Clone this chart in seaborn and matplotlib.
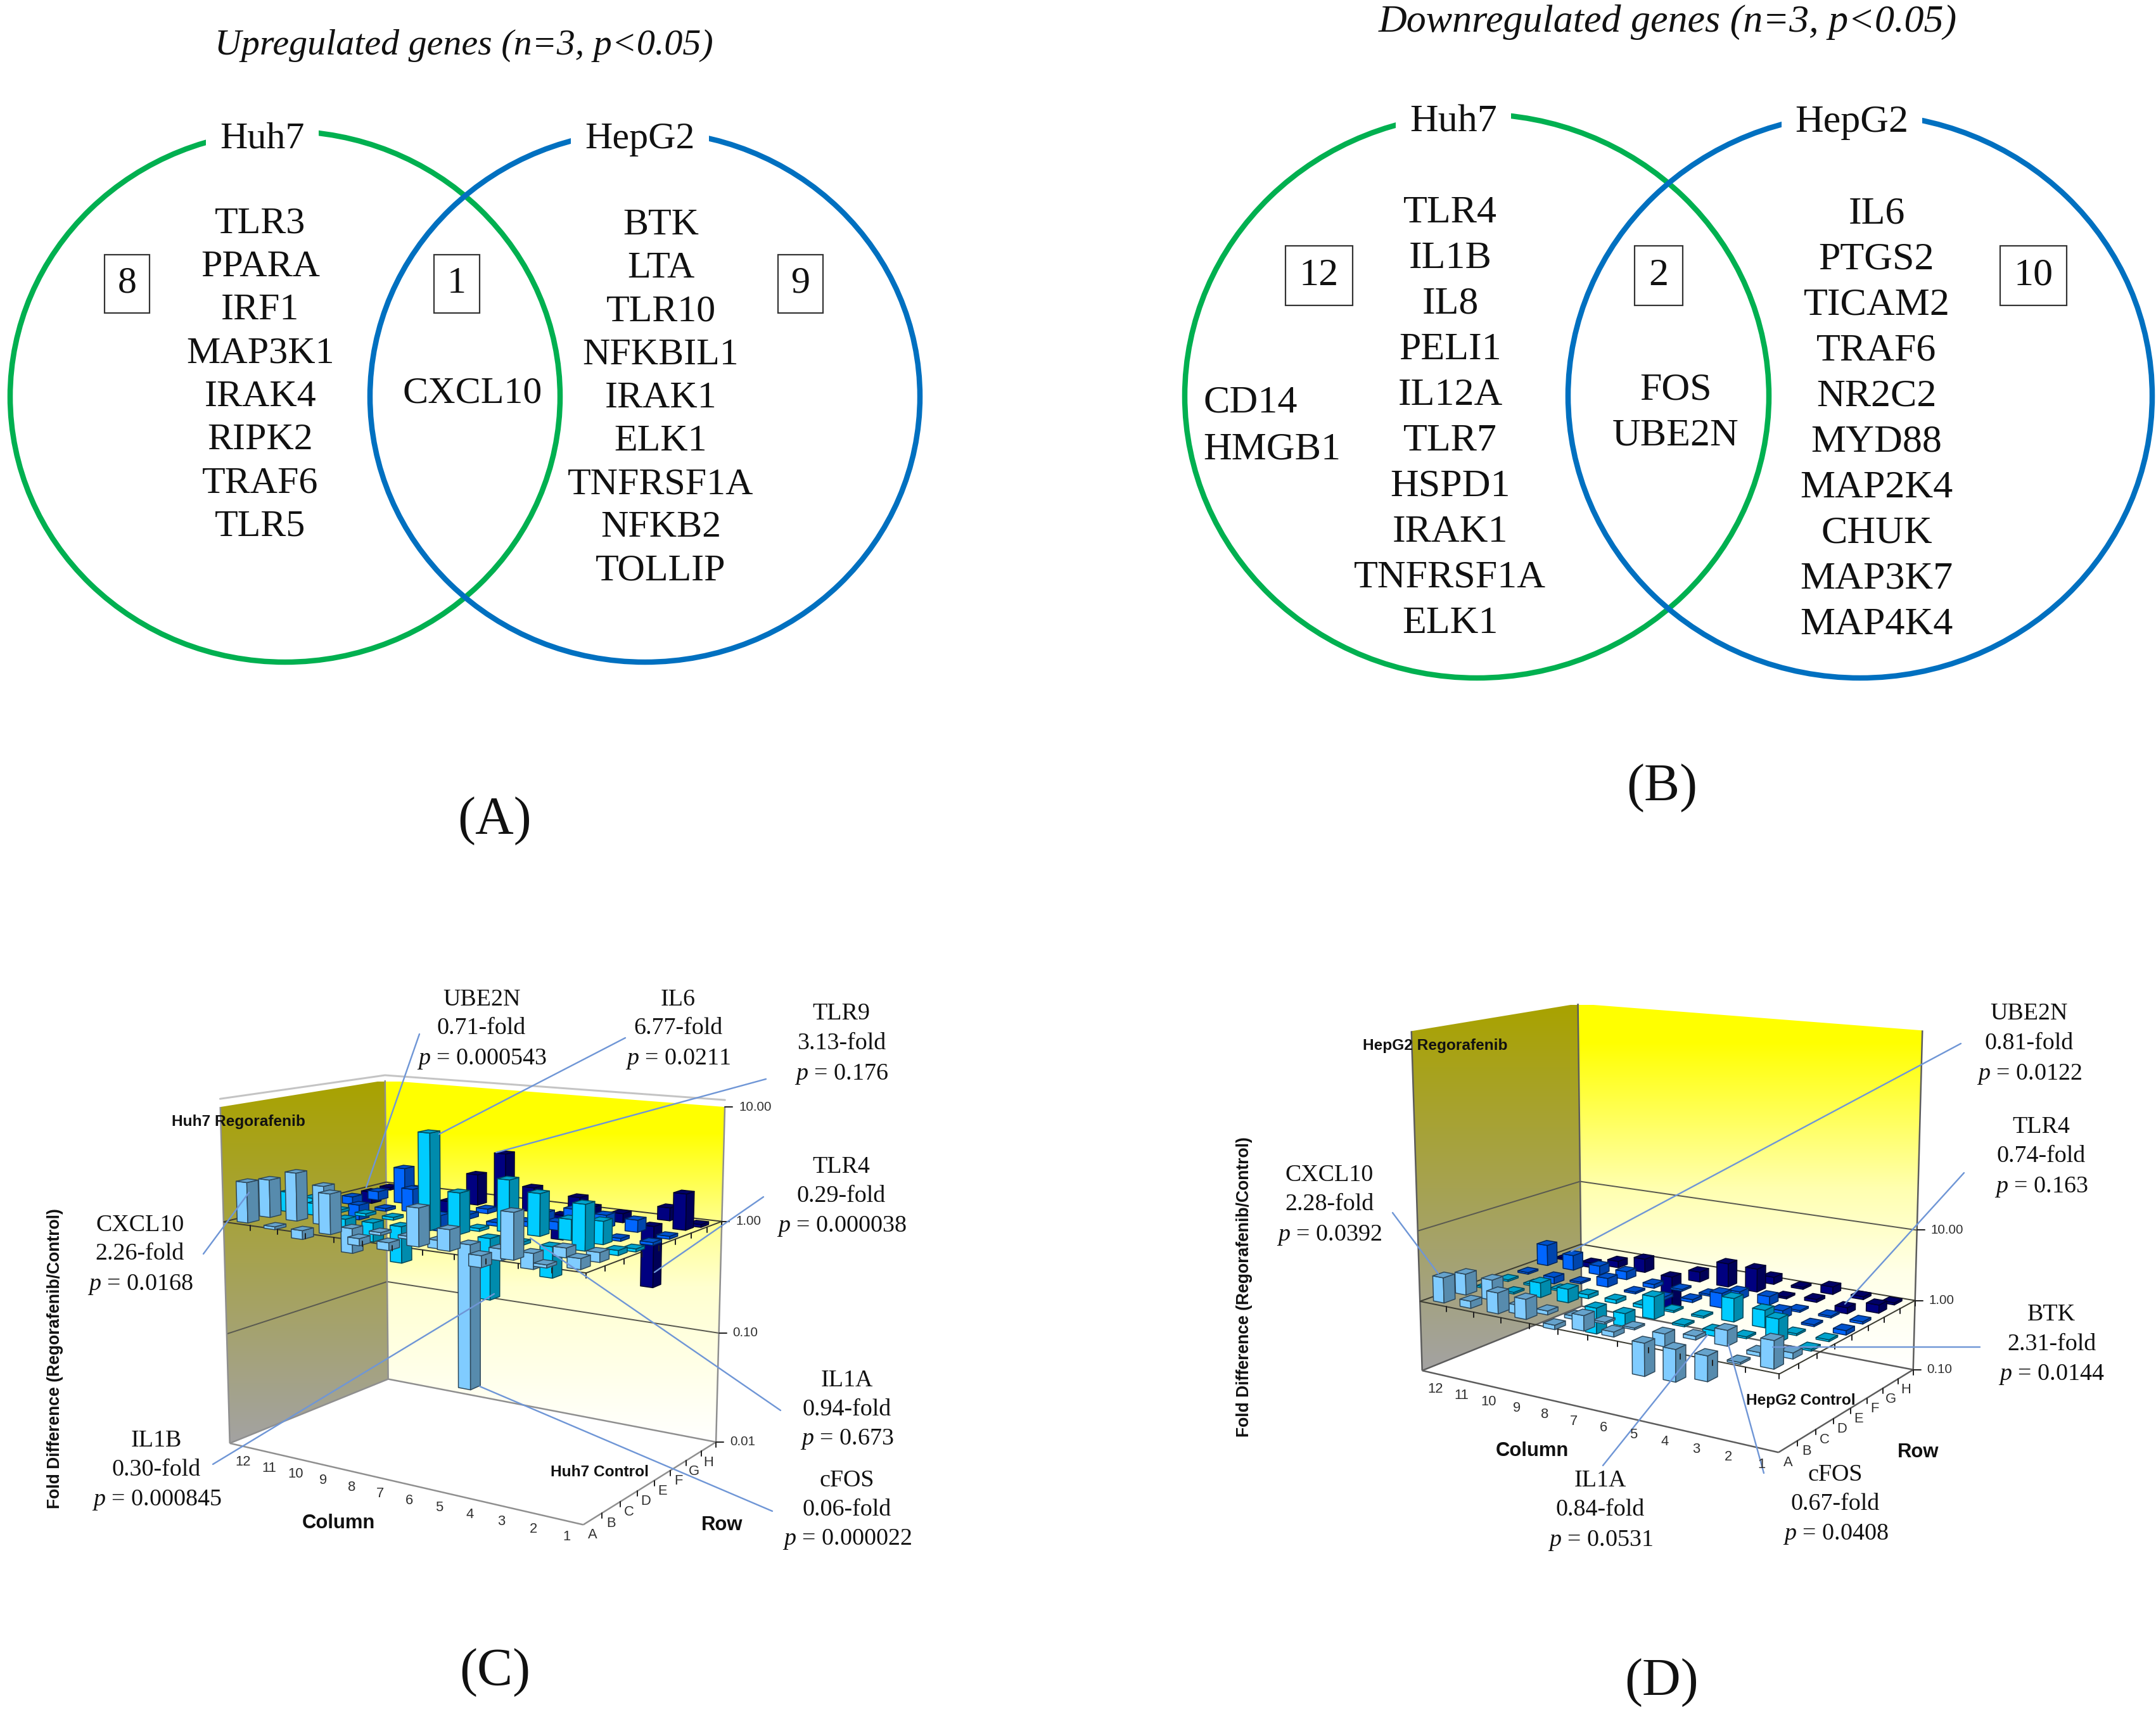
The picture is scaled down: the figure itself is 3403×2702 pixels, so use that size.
import numpy as np
import matplotlib
matplotlib.use('Agg')
import matplotlib.pyplot as plt
import seaborn as sns
from matplotlib.colors import LinearSegmentedColormap, to_rgb
from matplotlib.patches import Ellipse, Rectangle, Polygon

# ── Settings ──────────────────────────────────────────
sns.set_theme(style='white')
plt.rcParams['font.family'] = ['Liberation Serif', 'DejaVu Serif']
plt.rcParams['mathtext.fontset'] = 'custom'
plt.rcParams['mathtext.it'] = 'Liberation Serif:italic'
plt.rcParams['mathtext.rm'] = 'Liberation Serif'

GREEN, BLUE = '#00b050', '#0070c0'
LEADER = '#6f96d6'
SANS = 'Liberation Sans'


def fs(px):
    # figure is 100 dpi, so text height in pixels -> points
    return px * 0.72


# ── Venn data ─────────────────────────────────────────
up_huh7 = ['TLR3', 'PPARA', 'IRF1', 'MAP3K1', 'IRAK4', 'RIPK2', 'TRAF6', 'TLR5']
up_hepg2 = ['BTK', 'LTA', 'TLR10', 'NFKBIL1', 'IRAK1', 'ELK1', 'TNFRSF1A', 'NFKB2', 'TOLLIP']
up_shared = ['CXCL10']
up_counts = [8, 1, 9]
down_huh7 = ['TLR4', 'IL1B', 'IL8', 'PELI1', 'IL12A', 'TLR7', 'HSPD1', 'IRAK1', 'TNFRSF1A', 'ELK1']
down_huh7_extra = ['CD14', 'HMGB1']
down_hepg2 = ['IL6', 'PTGS2', 'TICAM2', 'TRAF6', 'NR2C2', 'MYD88', 'MAP2K4', 'CHUK', 'MAP3K7', 'MAP4K4']
down_shared = ['FOS', 'UBE2N']
down_counts = [12, 2, 10]

# ── Fold differences, rows A-H, columns 12 down to 1 (nan = no bar) ───
nan = np.nan
huh7_a = [2.26, 1.0, 0.84, 2.21, 0.87, 0.86, 2.09, 1.5, 0.8, 2.4, 1.0, 1.22]
huh7_b = [2.15, 2.64, 2.16, 0.61, 1.0, 0.98, 0.85, 0.06, 0.8, 0.74, 1.2, 1.2]
huh7_c = [1.5, 1.27, 0.79, 0.68, 0.48, 6.77, 2.25, 0.30, 0.94, 0.55, 2.4, 1.1]
huh7_d = [1.2, 1.0, 1.03, 1.02, nan, nan, 1.0, 2.8, 2.3, 1.5, 1.56, 1.03]
huh7_e = [nan, 0.73, 1.03, 1.6, 0.72, 1.1, 0.93, 1.1, 1.18, nan, 0.95, 0.95]
huh7_f = [0.85, 1.2, 2.1, nan, nan, 1.1, nan, 1.18, 1.36, 1.3, 1.27, 1.0]
huh7_g = [0.78, nan, nan, 0.79, 1.9, 3.13, 1.65, 0.6, 1.27, 1.2, 0.29, 2.05]
huh7_h = [0.95, nan, nan, nan, nan, nan, nan, 1.3, nan, nan, 1.3, 0.95]
huh7_folds = [huh7_a, huh7_b, huh7_c, huh7_d, huh7_e, huh7_f, huh7_g, huh7_h]

hepg2_a = [2.28, 1.26, 1.96, 1.9, 0.87, 1.62, 1.17, 0.36, 0.37, 0.46, 1.0, 2.31]
hepg2_b = [2.0, 1.94, 0.75, 0.88, 0.9, 1.0, 1.0, 0.67, 1.12, 1.62, 0.89, 1.2]
hepg2_c = [1.0, 1.0, 1.62, 1.56, 0.43, 0.66, 2.04, 1.0, 0.84, 1.0, 2.08, 1.03]
hepg2_d = [1.03, 1.0, 1.0, 0.88, 0.89, 0.9, 1.0, 1.0, 2.1, 1.73, 1.0, 1.0]
hepg2_e = [1.03, 0.8, 1.02, 1.34, 1.0, 0.9, 1.1, 1.6, nan, 1.3, 0.97, 0.87]
hepg2_f = [2.03, 1.66, 1.35, 1.31, 0.88, 1.03, 1.0, 1.3, 1.32, 1.03, 1.05, 0.93]
hepg2_g = [1.03, 0.85, 1.25, 1.58, 0.33, 1.4, 2.18, 2.15, 1.03, 1.1, 0.82, 1.3]
hepg2_h = [nan, nan, nan, nan, nan, nan, nan, 1.27, 1.07, 1.28, 1.1, 1.07]
hepg2_folds = [hepg2_a, hepg2_b, hepg2_c, hepg2_d, hepg2_e, hepg2_f, hepg2_g, hepg2_h]

row_names = list('ABCDEFGH')
col_names = [str(c) for c in range(12, 0, -1)]
row_colors = ['#80ccff', '#80ccff', '#00ccff', '#00ccff', '#0066ff', '#0066ff', '#000080', '#000080']

# gene, fold line, p value
huh7_notes = [('UBE2N', '0.71-fold', '0.000543'), ('IL6', '6.77-fold', '0.0211'),
              ('TLR9', '3.13-fold', '0.176'), ('TLR4', '0.29-fold', '0.000038'),
              ('CXCL10', '2.26-fold', '0.0168'), ('IL1B', '0.30-fold', '0.000845'),
              ('IL1A', '0.94-fold', '0.673'), ('cFOS', '0.06-fold', '0.000022')]
hepg2_notes = [('UBE2N', '0.81-fold', '0.0122'), ('TLR4', '0.74-fold', '0.163'),
               ('CXCL10', '2.28-fold', '0.0392'), ('BTK', '2.31-fold', '0.0144'),
               ('IL1A', '0.84-fold', '0.0531'), ('cFOS', '0.67-fold', '0.0408')]

# ── Canvas in reference pixels ────────────────────────
fig = plt.figure(figsize=(34.03, 27.02), dpi=100, facecolor='white')
ax = fig.add_axes([0, 0, 1, 1])
ax.set_axis_off()


def centered(x, y, s, px, **kw):
    kw.setdefault('ha', 'center')
    kw.setdefault('va', 'center')
    ax.text(x, y, s, fontsize=fs(px), color=kw.pop('color', '#111111'), zorder=kw.pop('zorder', 20), **kw)


# ── Venn panels ───────────────────────────────────────
def venn(green, blue, rx_ry, left_genes, right_genes, shared, counts, boxes,
         left_xy, right_xy, shared_xy, step, names_xy, px):
    for (cx, cy), col in zip((green, blue), (GREEN, BLUE)):
        ax.add_patch(Ellipse((cx, cy), 2*rx_ry[0], 2*rx_ry[1], fill=False, ec=col, lw=fs(8.5), zorder=2))
    for i, g in enumerate(left_genes):
        centered(left_xy[0], left_xy[1] + i*step, g, px)
    for i, g in enumerate(right_genes):
        centered(right_xy[0], right_xy[1] + i*step, g, px)
    for i, g in enumerate(shared):
        centered(shared_xy[0], shared_xy[1] + i*step, g, px)
    for n, (x0, x1, y0, y1) in zip(counts, boxes):
        ax.add_patch(Rectangle((x0, y0), x1-x0, y1-y0, fill=False, ec='#333333', lw=fs(2.2), zorder=3))
        centered((x0+x1)/2, (y0+y1)/2, str(n), px)
    for (x, y), s in zip(names_xy, ('Huh7', 'HepG2')):
        centered(x, y, s, px, bbox=dict(fc='white', ec='none', pad=fs(22)))


venn((450, 626), (1018, 626), (434, 419), up_huh7, up_hepg2, up_shared, up_counts,
     [(165, 236, 402, 494), (685, 757, 402, 494), (1228, 1299, 402, 494)],
     (411, 354), (1043, 356), (746, 621), 68.2, [(414, 220), (1010, 220)], 60)
centered(732, 72, 'Upregulated genes (n=3, p<0.05)', 58, style='italic')

venn((2331, 625), (2936, 625), (461, 445), down_huh7, down_hepg2, down_shared, down_counts,
     [(2029, 2135, 388, 482), (2580, 2656, 388, 482), (3157, 3262, 388, 482)],
     (2289, 336), (2962, 338), (2645, 616), 72, [(2294, 193), (2923, 193)], 62)
for i, g in enumerate(down_huh7_extra):
    centered(1899, 636 + i*74, g, 62, ha='left')
centered(2632, 35, 'Downregulated genes (n=3, p<0.05)', 62, style='italic')

for s, x, y in [('(A)', 781, 1295), ('(B)', 2623, 1243), ('(C)', 781, 2639), ('(D)', 2623, 2656)]:
    centered(x, y, s, 84)


# ── 3D bar panels: a projective map fitted from the box corners ───────
def fit_proj(pts3, pts2):
    A, b = [], []
    for (X, Y, Z), (x, y) in zip(pts3, pts2):
        A.append([X, Y, Z, 1, 0, 0, 0, 0, -x*X, -x*Y, -x*Z])
        b.append(x)
        A.append([0, 0, 0, 0, X, Y, Z, 1, -y*X, -y*Y, -y*Z])
        b.append(y)
    p = np.linalg.lstsq(np.array(A, float), np.array(b, float), rcond=None)[0]
    return np.append(p, 1).reshape(3, 4)


def pj(P, u, v, z):
    w = P @ np.array([u, v, z, 1.0])
    return w[0]/w[2], w[1]/w[2]


def seg(P, a, b, **kw):
    (x0, y0), (x1, y1) = pj(P, *a), pj(P, *b)
    ax.plot([x0, x1], [y0, y1], solid_capstyle='butt', **kw)


def wall(P, corners, cmap, y0, y1):
    pts = [pj(P, *c) for c in corners]
    xs = [p[0] for p in pts]
    grad = np.linspace(0, 1, 256)[:, None]
    im = ax.imshow(grad, cmap=cmap, vmin=0, vmax=1, aspect='auto', zorder=1,
                   extent=(min(xs), max(xs), y1, y0), interpolation='bilinear')
    im.set_clip_path(Polygon(pts, transform=ax.transData))


def bar(P, row, col_i, fold, color):
    if np.isnan(fold):
        return
    du, dv = 0.40/12/2, 0.50/8/2
    uc, vc = (col_i + 0.5)/12, (row + 0.5)/8
    u0, u1, v0, v1 = uc-du, uc+du, vc-dv, vc+dv
    z = np.log10(fold)
    if abs(z) < 0.025:          # flat cells still show a thin slab
        z = -0.025
    zb, zt = min(0, z), max(0, z)
    rgb = np.array(to_rgb(color))
    faces = [([(u0, v0, zb), (u1, v0, zb), (u1, v0, zt), (u0, v0, zt)], rgb),
             ([(u1, v0, zb), (u1, v1, zb), (u1, v1, zt), (u1, v0, zt)], rgb*0.68),
             ([(u0, v0, zt), (u1, v0, zt), (u1, v1, zt), (u0, v1, zt)], rgb*0.8)]
    for corners, fc in faces:
        ax.add_patch(Polygon([pj(P, *c) for c in corners], closed=True, fc=fc,
                             ec=rgb*0.35, lw=fs(1.5), joinstyle='round', zorder=5))


def panel(P, folds, zmin, zmax, grid_z, back_cmap, back_y, left_cmap, left_y,
          frame_col, tick_labels, corner, control, col_title, row_title, ylabel):
    wall(P, [(0, 1, zmin), (1, 1, zmin), (1, 1, zmax), (0, 1, zmax)], back_cmap, *back_y)
    wall(P, [(0, 0, zmin), (0, 1, zmin), (0, 1, zmax), (0, 0, zmax)], left_cmap, *left_y)
    ln = dict(color='#5a5a50', lw=fs(2), zorder=2)
    for z in grid_z:
        seg(P, (0, 0, z), (0, 1, z), **ln)
        seg(P, (0, 1, z), (1, 1, z), **ln)
    frame = dict(color=frame_col, lw=fs(2.5), zorder=3)
    seg(P, (0, 0, zmin), (1, 0, zmin), **frame)
    seg(P, (1, 0, zmin), (1, 1, zmin), **frame)
    seg(P, (0, 0, zmin), (0, 1, zmin), **frame)
    seg(P, (0, 1, zmin), (1, 1, zmin), **frame)
    seg(P, (0, 0, zmin), (0, 0, zmax), **frame)
    seg(P, (0, 1, zmin), (0, 1, zmax), **frame)
    seg(P, (1, 1, zmin), (1, 1, zmax), **frame)
    # 1.00 plane outline
    plane = dict(color='#3c3c32', lw=fs(2), zorder=4)
    seg(P, (0, 0, 0), (1, 0, 0), **plane)
    seg(P, (1, 0, 0), (1, 1, 0), **plane)
    seg(P, (0, 0, 0), (0, 1, 0), **plane)
    seg(P, (0, 1, 0), (1, 1, 0), **plane)
    # bars back to front
    for r in range(7, -1, -1):
        for c in range(12):
            bar(P, r, c, folds[r][c], row_colors[r])
    # ticks on the plane edges and the floor
    tk = dict(color='#222222', lw=fs(2), zorder=6)
    for c in range(1, 13):
        x, y = pj(P, c/12, 0, 0)
        ax.plot([x, x], [y, y+8], **tk)
    for r in range(1, 9):
        x, y = pj(P, 1, r/8, 0)
        ax.plot([x, x], [y, y+8], **tk)
        x, y = pj(P, 1, r/8, zmin)
        ax.plot([x, x], [y, y+8], **tk)
    for z, s in tick_labels:
        x, y = pj(P, 1, 1, z)
        ax.plot([x, x+12], [y, y], **tk)
        centered(x+22, y, s, 20.5, ha='left', family=SANS, color='#303030')
    for i, s in enumerate(col_names):
        x, y = pj(P, (i+0.5)/12, 0, zmin)
        centered(x, y+25, s, 22, family=SANS, color='#303030')
    for i, s in enumerate(row_names):
        x, y = pj(P, 1, (i+0.5)/8, zmin)
        centered(x, y+25, s, 22, family=SANS, color='#303030')
    bold = dict(family=SANS, weight='bold', color='#111111')
    centered(*corner[:2], corner[2], 24.5, ha='left', **bold)
    centered(*control[:2], control[2], 24.5, ha='left', **bold)
    centered(*col_title, 'Column', 31, **bold)
    centered(*row_title, 'Row', 31, **bold)
    centered(*ylabel, 'Fold Difference (Regorafenib/Control)', 26.5, rotation=90, **bold)


def notes(items, centers, leaders):
    for (gene, fold, pval), (x, y0, y1, y2), (a, b) in zip(items, centers, leaders):
        centered(x, y0, gene, 38)
        centered(x, y1, fold, 38)
        centered(x, y2, r'$\mathit{p}$ = ' + pval, 38)
        ax.plot([a[0], b[0]], [a[1], b[1]], color=LEADER, lw=fs(2.4), zorder=10)


yellow_c = LinearSegmentedColormap.from_list('yc', [(0, '#ffff00'), (0.14, '#ffff00'), (0.39, '#ffff90'),
                                                    (0.57, '#ffffd0'), (1, '#ffffff')])
olive_c = LinearSegmentedColormap.from_list('oc', sns.blend_palette(['#a9a200', '#a3a3a3'], 8))
yellow_d = LinearSegmentedColormap.from_list('yd', [(0, '#ffff00'), (0.1, '#ffff00'), (0.5, '#ffffb0'),
                                                    (0.73, '#ffffe8'), (1, '#ffffff')])

# panel C
PC = fit_proj([(0, 0, -2), (1, 0, -2), (1, 1, -2), (0, 1, -2), (0, 0, 1), (0, 1, 1), (1, 1, 1),
               (0, 0, 0), (1, 1, 0), (1, 0, 0), (0, 1, 0), (0, 0, -1), (0, 1, -1), (1, 1, -1)],
              [(365, 2280), (920, 2407), (1129, 2277), (612, 2178), (346, 1751), (607, 1707), (1146, 1750),
               (352, 1925), (1140, 1925), (926, 2007), (610, 1862), (358, 2104), (612, 2022), (1133, 2104)])
panel(PC, huh7_folds, -2, 1, [-1], yellow_c, (1707, 2277), olive_c, (1707, 2280), '#8f8f8f',
      [(1, '10.00'), (0, '1.00'), (-1, '0.10'), (-2, '0.01')],
      (271, 1771, 'Huh7 Regorafenib'), (869, 2323, 'Huh7 Control'), (534, 2404), (1140, 2407), (87, 2144))
ax.plot(*zip(pj(PC, 0, 0, 1.07), pj(PC, 0, 1, 1.05), pj(PC, 1, 1, 1.06)), color='#c4c4c4', lw=fs(3), zorder=2)
notes(huh7_notes,
      [(760, 1578, 1623, 1671), (1070, 1578, 1623, 1671), (1328, 1600, 1647, 1695),
       (1328, 1842, 1888, 1936), (221, 1934, 1979, 2027), (247, 2274, 2320, 2368),
       (1337, 2179, 2225, 2272), (1337, 2337, 2383, 2430)],
      [((662, 1632), (578, 1874)), ((987, 1638), (693, 1790)), ((1209, 1703), (783, 1819)),
       ((1205, 1889), (1033, 2008)), ((321, 1979), (393, 1882)), ((336, 2311), (780, 2042)),
       ((1232, 2226), (837, 1954)), ((1219, 2385), (757, 2188))])

# panel D
PD = fit_proj([(0, 0, -1), (1, 0, -1), (1, 1, -1), (0, 1, -1), (0, 0, 3.75), (0, 1, 3.75), (1, 1, 3.75),
               (0, 0, 1), (0, 1, 1), (1, 1, 1), (0, 0, 0), (0, 1, 0), (1, 1, 0), (1, 0, 0)],
              [(2245, 2165), (2807, 2292), (3017, 2162), (2497, 2065), (2226, 1628), (2490, 1586), (3036, 1628),
               (2239, 1940), (2494, 1861), (3025, 1938), (2242, 2053), (2495, 1963), (3025, 2053), (2808, 2170)])
panel(PD, hepg2_folds, -1, 3.75, [1], yellow_d, (1586, 2165), olive_c, (1586, 2165), '#5c5c5c',
      [(1, '10.00'), (0, '1.00'), (-1, '0.10')],
      (2151, 1650, 'HepG2 Regorafenib'), (2756, 2210, 'HepG2 Control'), (2418, 2290), (3028, 2292), (1964, 2031))
notes(hepg2_notes,
      [(3203, 1600, 1647, 1695), (3222, 1779, 1825, 1873), (2098, 1855, 1901, 1949),
       (3238, 2075, 2122, 2170), (2526, 2337, 2383, 2431), (2897, 2328, 2374, 2422)],
      [((3095, 1647), (2480, 1975)), ((3100, 1851), (2912, 2058)), ((2198, 1914), (2270, 2010)),
       ((3125, 2126), (2798, 2126)), ((2530, 2313), (2695, 2107)), ((2784, 2325), (2728, 2122))])

ax.set_xlim(0, 3403)
ax.set_ylim(2702, 0)
fig.savefig('out.png', dpi=100, facecolor='white')
